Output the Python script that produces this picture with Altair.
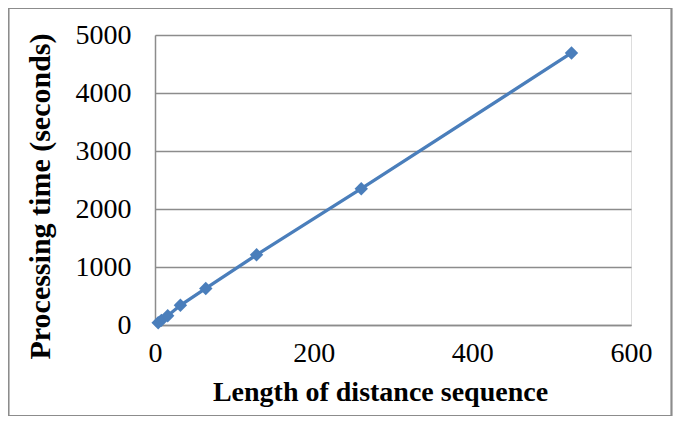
import altair as alt
import pandas as pd

# Data
lengths = [4, 8, 16, 32, 64, 128, 260, 525]
times = [40, 80, 160, 340, 630, 1210, 2350, 4690]

df = pd.DataFrame({"length": lengths, "time": times})

W, H = 476, 290
FONT = "Liberation Serif"
BLUE = "#4a7ebb"
GRID = "#8c8c8c"

x = alt.X(
    "length:Q",
    scale=alt.Scale(domain=[0, 600], nice=False),
    axis=alt.Axis(
        title="Length of distance sequence",
        values=[0, 200, 400, 600],
        format="d",
        grid=False,
        ticks=False,
        domainColor=GRID,
        domainWidth=1.5,
        labelFont=FONT,
        labelFontSize=28,
        labelColor="black",
        labelPadding=14,
        labelFlush=False,
        titleFont=FONT,
        titleFontSize=28,
        titleFontWeight="bold",
        titleColor="black",
        titleX=225,
        titleY=75,
        titleBaseline="alphabetic",
    ),
)
y = alt.Y(
    "time:Q",
    scale=alt.Scale(domain=[0, 5000], nice=False),
    axis=alt.Axis(
        title="Processing time (seconds)",
        values=[0, 1000, 2000, 3000, 4000, 5000],
        format="d",
        grid=True,
        gridColor=GRID,
        gridWidth=1.5,
        ticks=False,
        domainColor=GRID,
        domainWidth=1.5,
        labelFont=FONT,
        labelFontSize=28,
        labelColor="black",
        labelPadding=24,
        labelFlush=False,
        titleFont=FONT,
        titleFontSize=30,
        titleFontWeight="bold",
        titleColor="black",
        titleX=-106,
        titleY=161,
        titleBaseline="alphabetic",
        titleAngle=270,
    ),
)

line = alt.Chart(df).mark_line(color=BLUE, strokeWidth=3.3).encode(x=x, y=y)
pts = alt.Chart(df).mark_point(
    shape="diamond", filled=True, color=BLUE, size=180, opacity=1
).encode(x="length:Q", y="time:Q")

border = alt.Chart(df).mark_rect(
    fill=None, stroke="#8c8c8c", strokeWidth=1.2, clip=False
).encode(
    x=alt.value(-146.5),
    x2=alt.value(516.5),
    y=alt.value(-26.5),
    y2=alt.value(380.5),
)

chart = (
    alt.layer(border, line, pts)
    .properties(
        width=W,
        height=H,
        autosize=alt.AutoSizeParams(type="none"),
        padding={"left": 147, "top": 27, "right": 42, "bottom": 92},
    )
    .configure_view(stroke=None)
    .configure(background="white")
)

chart.save("out.html", embed_options={"renderer": "svg", "actions": False})
